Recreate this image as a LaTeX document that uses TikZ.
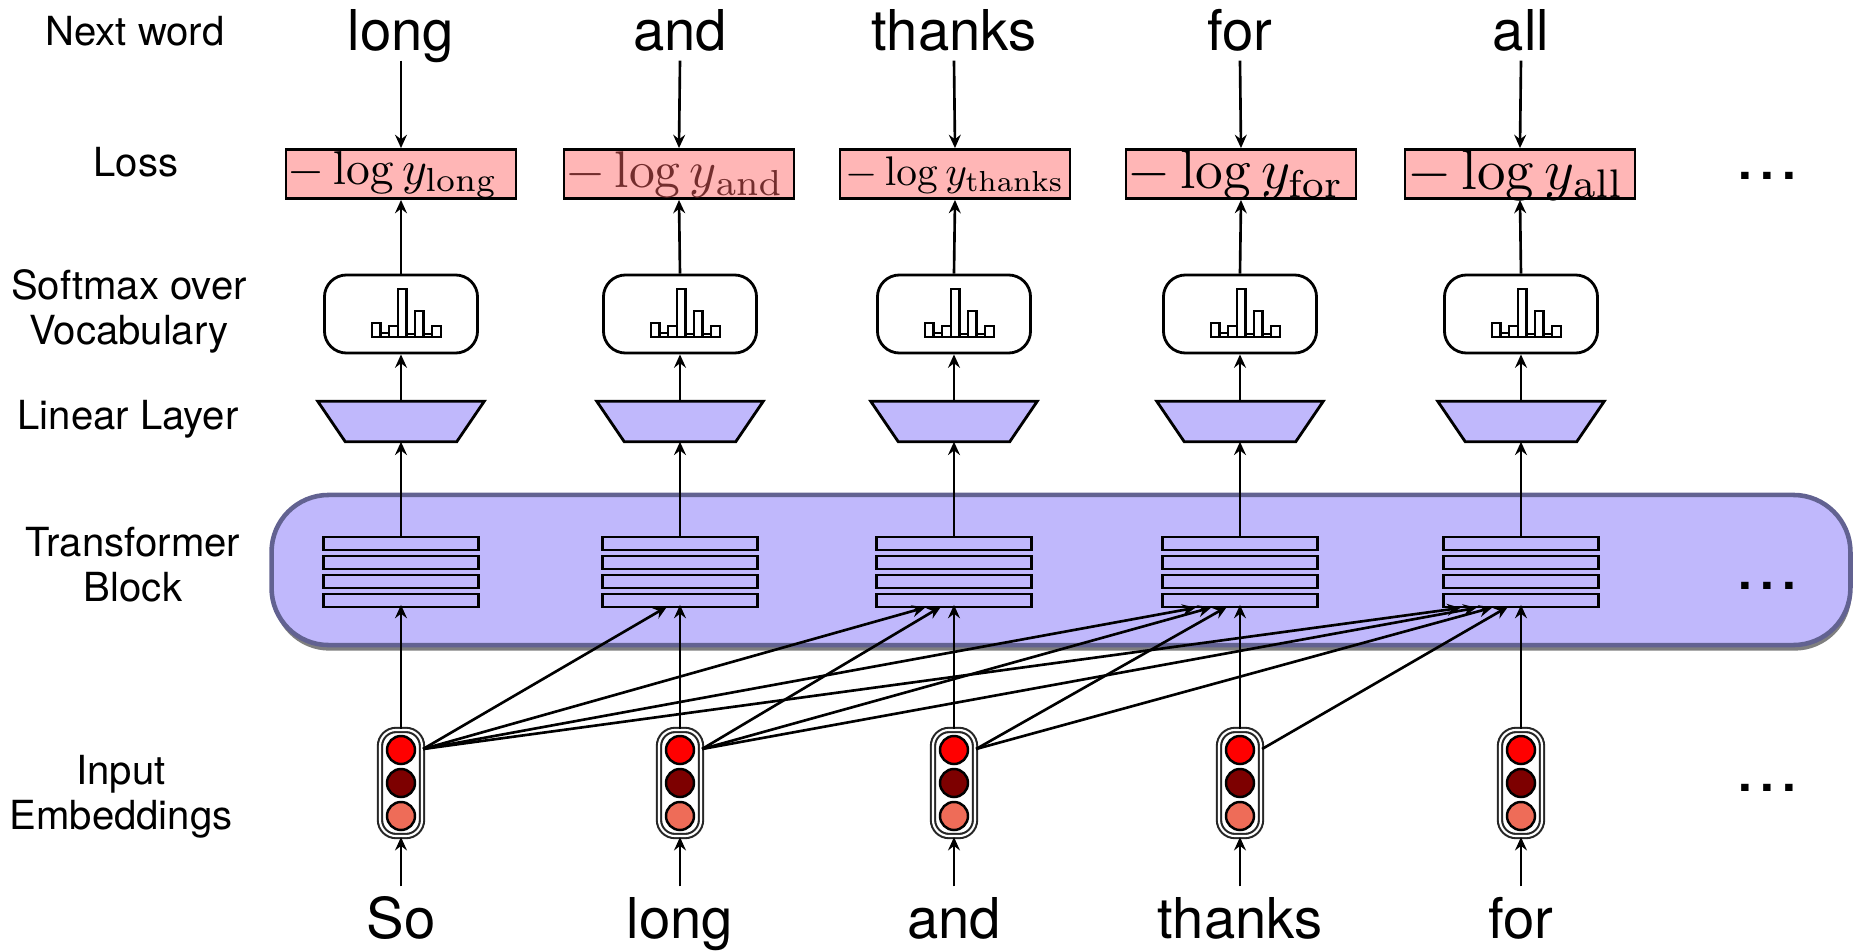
\documentclass[tikz,border=0pt]{standalone}
\usepackage[no-math]{fontspec}
\setmainfont{TeX Gyre Heros}
\usepackage{graphicx}
\usetikzlibrary{arrows.meta,calc,shadows}
\definecolor{pinkfill}{RGB}{255,182,182}
\definecolor{lav}{RGB}{192,184,252}
\definecolor{tbborder}{RGB}{98,98,145}
\definecolor{andcol}{RGB}{115,45,45}
\definecolor{embA}{RGB}{255,0,0}
\definecolor{embB}{RGB}{125,0,0}
\definecolor{embC}{RGB}{238,108,88}
\begin{document}
\begin{tikzpicture}[x=0.01cm,y=-0.01cm,
  lbl/.style={font=\fontsize{11.4}{12.8}\selectfont, align=center, inner sep=0},
  wordtop/.style={font=\fontsize{16}{18}\selectfont, inner sep=0, text depth=0.1cm, anchor=base},
  wordbot/.style={font=\fontsize{16}{18}\selectfont, inner sep=0, text height=0.51cm, anchor=base},
  lossbox/.style={draw, fill=pinkfill, minimum width=2.3cm, minimum height=0.49cm, inner sep=0, line width=0.8pt},
  losstext/.style={inner sep=0},
  smbox/.style={draw, fill=white, rounded corners=0.22cm, minimum width=1.53cm, minimum height=0.78cm, inner sep=0, line width=0.8pt},
  linbox/.style={minimum width=1.65cm, minimum height=0.39cm, inner sep=0},
  trap/.style={draw, fill=lav, line width=0.8pt, line join=miter},
  barbox/.style={draw, fill=lav, minimum width=1.55cm, minimum height=0.13cm, inner sep=0, line width=0.8pt},
  capsule/.style={draw=black!85, double=white, double distance=0.6pt, line width=0.6pt, fill=white, rounded corners=0.16cm, minimum width=0.42cm, minimum height=1.06cm, inner sep=0},
  embdot/.style={circle, draw, line width=0.7pt, minimum size=0.28cm, inner sep=0},
  arr/.style={-{Stealth[length=3.8pt,width=3.4pt,inset=1.3pt]}, line width=0.75pt},
  histbar/.style={draw, line width=0.7pt},
  ell/.style={font=\fontsize{14}{14}\selectfont\bfseries, inner sep=0}
]
\useasboundingbox (0,0) rectangle (1862,951);

% left labels
\node[lbl] (labNext) at (135,31) {Next word};
\node[lbl] (labLoss) at (136,162) {Loss};
\node[lbl] (labSoft) at (129,311) {Softmax over\\Vocabulary};
\node[lbl] (labLin) at (128,419) {Linear Layer};
\node[lbl] (labTB) at (133,565) {Transformer\\Block};
\node[lbl] (labEmb) at (121,797) {Input\\Embeddings};

% transformer block background
\node[draw=tbborder, fill=lav, line width=1.3pt, rounded corners=0.57cm,
      minimum width=15.78cm, minimum height=1.5cm, inner sep=0,
      drop shadow={shadow xshift=0.3pt, shadow yshift=-1.6pt, opacity=0.5, fill=black}]
      (tb) at (1061,570) {};

% loss boxes
\node[lossbox] (l1) at (401,174) {};
\node[lossbox] (l2) at (679,174) {};
\node[lossbox] (l3) at (955,174) {};
\node[lossbox] (l4) at (1241,174) {};
\node[lossbox] (l5) at (1520,174) {};
\node[losstext] (lt1) at ($(l1.center)+(-8,1)$) {\resizebox{2.1cm}{!}{$-\log y_{\mathrm{long}}$}};
\node[losstext] (lt2) at ($(l2.center)+(-4,1)$) {\color{andcol}\resizebox{2.18cm}{!}{$-\log y_{\mathrm{and}}$}};
\node[losstext] (lt3) at ($(l3.center)+(0,1)$) {\resizebox{2.18cm}{!}{$-\log y_{\mathrm{thanks}}$}};
\node[losstext] (lt4) at ($(l4.center)+(-5,1)$) {\resizebox{2.16cm}{!}{$-\log y_{\mathrm{for}}$}};
\node[losstext] (lt5) at ($(l5.center)+(-4,1)$) {\resizebox{2.16cm}{!}{$-\log y_{\mathrm{all}}$}};

% words
\node[wordtop] (wt1) at (401,50) {long};
\node[wordtop] (wt2) at (680,50) {and};
\node[wordtop] (wt3) at (954,50) {thanks};
\node[wordtop] (wt4) at (1240,50) {for};
\node[wordtop] (wt5) at (1521,50) {all};
\node[wordbot] (wb1) at (401,938) {So};
\node[wordbot] (wb2) at (680,938) {long};
\node[wordbot] (wb3) at (954,938) {and};
\node[wordbot] (wb4) at (1240,938) {thanks};
\node[wordbot] (wb5) at (1521,938) {for};

\foreach \i/\x in {1/401,2/680,3/954,4/1240,5/1521}{
  % softmax
  \node[smbox] (sm\i) at (\x,314) {};
  \begin{scope}[shift={(sm\i.center)}]
    \foreach \h [count=\n from 0] in {14,4,11,48,3,26,3,11}{
      \draw[histbar] (-29+8.6*\n,23) rectangle ++(8.6,-\h);
    }
  \end{scope}
  % linear layer
  \node[linbox] (lin\i) at (\x,421.5) {};
  \draw[trap] (lin\i.north west) -- (lin\i.north east)
     -- ($(lin\i.south east)+(-27.5,0)$) -- ($(lin\i.south west)+(27.5,0)$) -- cycle;
  % transformer stack
  \node[barbox] (sa\i) at (\x,543.5) {};
  \node[barbox] (sb\i) at (\x,562.5) {};
  \node[barbox] (sc\i) at (\x,581.5) {};
  \node[barbox] (sd\i) at (\x,600.5) {};
  % embedding
  \node[capsule] (e\i) at (\x,783) {};
  \node[embdot, fill=embA] (ea\i) at (\x,750) {};
  \node[embdot, fill=embB] (eb\i) at (\x,783) {};
  \node[embdot, fill=embC] (ec\i) at (\x,816) {};
  % vertical connectors
  \draw[arr] (wt\i.south) -- (l\i.north);
  \draw[arr] (sm\i.north) -- (l\i.south);
  \draw[arr] (lin\i.north) -- (sm\i.south);
  \draw[arr] (sa\i.north) -- (lin\i.south);
  \draw[arr, shorten >=-1pt] (e\i.north) -- (sd\i.south);
  \draw[arr] (wb\i.north) -- (e\i.south);
}

% attention connectors
\foreach \j in {1,2,3,4}{
  \pgfmathtruncatemacro{\jn}{\j+1}
  \foreach \k in {\jn,...,5}{
    \pgfmathsetmacro{\off}{16+16*(\k-\j-1)}
    \draw[arr, shorten >=-1pt] ($(e\j.east)+(0,-34)$) -- ($(sd\k.south)+(-\off,0)$);
  }
}

% ellipses
\node[ell] (dotsL) at (1767,176) {.\,.\,.};
\node[ell] (dotsT) at (1767,586) {.\,.\,.};
\node[ell] (dotsE) at (1767,788) {.\,.\,.};
\end{tikzpicture}
\end{document}
